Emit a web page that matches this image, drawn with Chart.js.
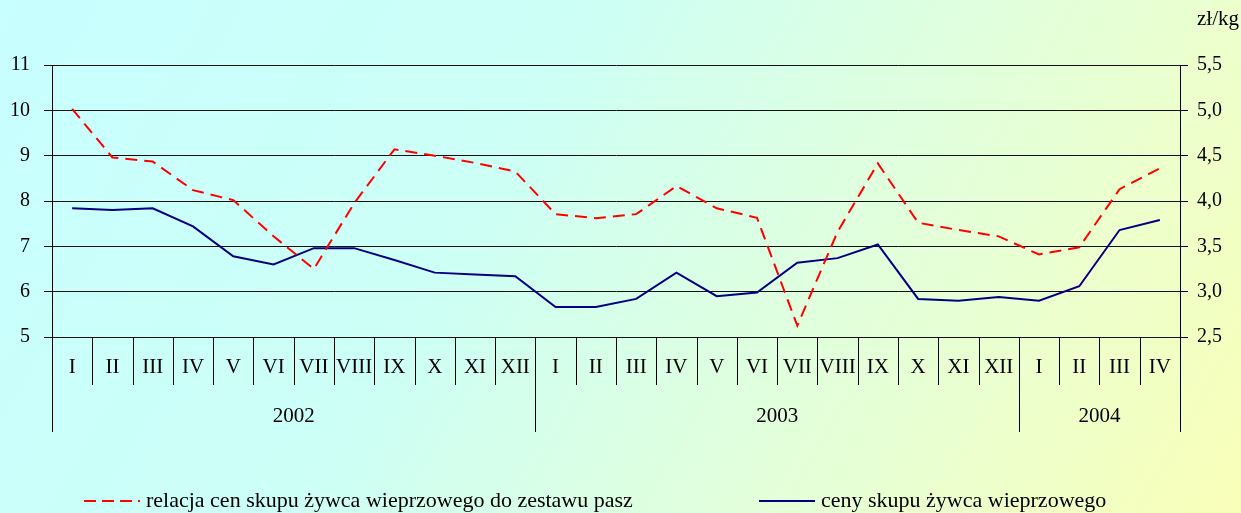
<!DOCTYPE html>
<html lang="pl">
<head>
<meta charset="UTF-8">
<title>Relacja cen skupu żywca wieprzowego</title>
<style>
  body { margin: 0; background: #fff; }
  canvas { display: block; }
</style>
</head>
<body>
<canvas id="myChart" width="1241" height="513"></canvas>

<script src="https://cdn.jsdelivr.net/npm/chart.js"></script>
<script>

// dane
const months = ['I','II','III','IV','V','VI','VII','VIII','IX','X','XI','XII',
                'I','II','III','IV','V','VI','VII','VIII','IX','X','XI','XII',
                'I','II','III','IV']
const years = ['2002', '2003', '2004']
const monthsInYear = [12, 12, 4]

// relacja cen skupu zywca do zestawu pasz (lewa os)
const ratio = [10.03, 8.96, 8.87, 8.24, 8.02, 7.22, 6.50, 7.95, 9.14, 9.00, 8.84, 8.65,
               7.71, 7.62, 7.71, 8.33, 7.84, 7.63, 5.25, 7.32, 8.83, 7.52, 7.36, 7.22,
               6.82, 6.98, 8.26, 8.72]
// ceny skupu zywca wieprzowego zl/kg (prawa os)
const price = [3.92, 3.90, 3.92, 3.72, 3.39, 3.30, 3.48, 3.48, 3.35, 3.21, 3.19, 3.17,
               2.83, 2.83, 2.92, 3.21, 2.95, 2.99, 3.32, 3.37, 3.52, 2.92, 2.90, 2.94,
               2.90, 3.06, 3.68, 3.79]

const leftMin = 5, leftMax = 11, leftStep = 1
const rightMin = 2.5, rightMax = 5.5, rightStep = 0.5

const FONT = 'Liberation Serif, Times New Roman, serif'

const backdrop = {
    id: 'backdrop',
    beforeDraw(chart) {
        const c = chart.ctx
        const g = c.createLinearGradient(0, 0, chart.width, chart.height * 1.4)
        g.addColorStop(0, '#c8ffff')
        g.addColorStop(0.35, '#ccfff6')
        g.addColorStop(0.65, '#e4ffd8')
        g.addColorStop(1, '#ffffb0')
        c.save()
        c.fillStyle = g
        c.fillRect(0, 0, chart.width, chart.height)
        c.restore()
    }
}

// opisy osi X (miesiace w ramkach + lata) i legenda
const xLabels = {
    id: 'xLabels',
    afterDraw(chart) {
        const c = chart.ctx
        const x = chart.scales.x
        const area = chart.chartArea
        const monthBottom = area.bottom + 48
        const yearBottom = area.bottom + 95

        const edge = i => {
            if (i <= 0) return area.left
            if (i >= months.length) return area.right
            return (x.getPixelForValue(i - 1) + x.getPixelForValue(i)) / 2
        }

        c.save()
        c.strokeStyle = '#000'
        c.lineWidth = 1
        c.fillStyle = '#000'
        c.font = '21px ' + FONT
        c.textAlign = 'center'
        c.textBaseline = 'middle'

        for (let i = 0; i <= months.length; i++) {
            const px = Math.round(edge(i)) + 0.5
            c.beginPath()
            c.moveTo(px, area.bottom)
            c.lineTo(px, monthBottom)
            c.stroke()
        }
        months.forEach((m, i) => c.fillText(m, x.getPixelForValue(i), area.bottom + 30))

        let start = 0
        for (let k = 0; k <= years.length; k++) {
            const px = Math.round(edge(start)) + 0.5
            c.beginPath()
            c.moveTo(px, area.bottom)
            c.lineTo(px, yearBottom)
            c.stroke()
            if (k < years.length) {
                const mid = (edge(start) + edge(start + monthsInYear[k])) / 2
                c.fillText(years[k], mid, area.bottom + 79)
                start += monthsInYear[k]
            }
        }

        // jednostka prawej osi
        c.textAlign = 'left'
        c.fillText('zł/kg', 1197, 19)

        // legenda
        const ds = chart.data.datasets
        const ly = 501
        c.lineWidth = 2
        c.strokeStyle = ds[0].borderColor
        c.setLineDash([12, 6])
        c.beginPath()
        c.moveTo(84, ly)
        c.lineTo(140, ly)
        c.stroke()
        c.setLineDash([])
        c.strokeStyle = ds[1].borderColor
        c.beginPath()
        c.moveTo(759, ly)
        c.lineTo(815, ly)
        c.stroke()
        c.font = '22px ' + FONT
        c.fillText(ds[0].label, 146, ly)
        c.fillText(ds[1].label, 821, ly)
        c.restore()
    }
}

new Chart(document.querySelector('#myChart'), {
    type: 'line',
    data: {
        labels: months,
        datasets: [{
            label: 'relacja cen skupu żywca wieprzowego do zestawu pasz',
            data: ratio,
            yAxisID: 'y',
            borderColor: '#ff0000',
            borderWidth: 2,
            borderDash: [12, 7],
            pointRadius: 0,
            tension: 0
        }, {
            label: 'ceny skupu żywca wieprzowego',
            data: price,
            yAxisID: 'y2',
            borderColor: '#000080',
            borderWidth: 2,
            pointRadius: 0,
            tension: 0
        }]
    },
    options: {
        responsive: false,
        animation: false,
        devicePixelRatio: 1,
        layout: { padding: { top: 65, left: 0, right: 0, bottom: 0 } },
        plugins: {
            legend: { display: false },
            tooltip: { enabled: false }
        },
        scales: {
            x: {
                type: 'category',
                offset: true,
                grid: { display: false },
                border: { display: false },
                ticks: { display: false },
                afterFit(s) { s.height = 176 }
            },
            y: {
                position: 'left',
                min: leftMin,
                max: leftMax,
                ticks: {
                    stepSize: leftStep,
                    color: '#000',
                    padding: 14,
                    font: { family: FONT, size: 20 }
                },
                grid: { color: '#111', lineWidth: 1, tickLength: 8 },
                border: { color: '#000', width: 1 },
                afterFit(s) { s.width = 52 }
            },
            y2: {
                position: 'right',
                min: rightMin,
                max: rightMax,
                ticks: {
                    stepSize: rightStep,
                    color: '#000',
                    padding: 9,
                    font: { family: FONT, size: 20 },
                    callback: v => v.toFixed(1).replace('.', ',')
                },
                grid: { drawOnChartArea: false, color: '#000', tickLength: 8 },
                border: { color: '#000', width: 1 },
                afterFit(s) { s.width = 61 }
            }
        }
    },
    plugins: [backdrop, xLabels]
})

</script>
</body>
</html>
